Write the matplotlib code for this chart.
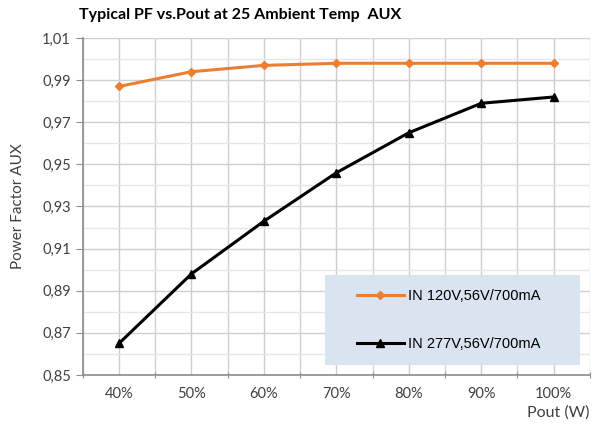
import matplotlib
matplotlib.use("Agg")
import matplotlib.pyplot as plt
from matplotlib.patches import Rectangle
from matplotlib.ticker import FuncFormatter, FixedLocator
import numpy as np

plt.rcParams['font.family'] = ['Lato', 'DejaVu Sans']

categories = ["40%", "50%", "60%", "70%", "80%", "90%", "100%"]
pf_120v = [0.987, 0.994, 0.997, 0.998, 0.998, 0.998, 0.998]
pf_277v = [0.865, 0.898, 0.923, 0.946, 0.965, 0.979, 0.982]
labels = ["IN 120V,56V/700mA", "IN 277V,56V/700mA"]

fig = plt.figure(figsize=(6, 4.32), dpi=100)
ax = fig.add_axes([0.138, 0.132, 0.845, 0.78])

x = np.arange(len(categories))

# grid
ax.set_xlim(-0.5, len(categories) - 0.5)
ax.set_ylim(0.85, 1.01)
ax.yaxis.set_major_locator(FixedLocator(np.round(np.arange(0.85, 1.0101, 0.02), 2)))
ax.yaxis.set_minor_locator(FixedLocator(np.round(np.arange(0.86, 1.0101, 0.02), 2)))
ax.yaxis.set_major_formatter(FuncFormatter(lambda v, p: f"{v:.2f}".replace('.', ',')))
ax.xaxis.set_major_locator(FixedLocator(np.arange(-0.5, len(categories), 1.0)))
ax.xaxis.set_minor_locator(FixedLocator(x))
ax.xaxis.set_major_formatter(FuncFormatter(lambda v, p: ""))
ax.set_xticklabels(categories, minor=True)
ax.grid(True, which='major', axis='both', color='#d0d0d0', linewidth=1.0, zorder=0)
ax.grid(True, which='minor', axis='y', color='#e6e6e6', linewidth=1.0, zorder=0)
ax.grid(True, which='minor', axis='x', color='#cccccc', linewidth=1.0, zorder=0)
ax.set_axisbelow(True)

for s in ['top', 'right']:
    ax.spines[s].set_visible(False)
for s in ['left', 'bottom']:
    ax.spines[s].set_color('#8c8c8c')
    ax.spines[s].set_linewidth(1.2)

ax.tick_params(axis='y', which='major', length=5, color='#8c8c8c', labelsize=10.5, labelcolor='#404040')
ax.tick_params(axis='y', which='minor', length=0)
ax.tick_params(axis='x', which='major', length=5, direction='inout', color='#8c8c8c')
ax.tick_params(axis='x', which='minor', length=0, pad=9, labelsize=10.5, labelcolor='#404040')

# legend background box
ax.add_patch(Rectangle((0.477, 0.03), 0.503, 0.267, transform=ax.transAxes,
                       facecolor='#dae3f0', edgecolor='none', zorder=1))

ax.plot(x, pf_120v, color='#ED7D31', linewidth=2.2, marker='D', markersize=4,
        label=labels[0], zorder=3)
ax.plot(x, pf_277v, color='black', linewidth=2.2, marker='^', markersize=6,
        label=labels[1], zorder=3)

ax.legend(loc='center left', bbox_to_anchor=(0.515, 0.163), frameon=False,
          handlelength=3.2, handletextpad=0.3, labelspacing=2.3,
          prop={'family': 'Liberation Sans', 'size': 10.5})

ax.set_ylabel("Power Factor AUX", fontsize=11, color='#404040', labelpad=12)
fig.text(0.983, 0.046, "Pout (W)", ha='right', va='center', fontsize=11.5, color='#404040')
fig.text(0.40, 0.965, "Typical PF vs.Pout at 25 Ambient Temp  AUX", ha='center', va='center',
         fontsize=11.5, fontweight='bold')

fig.savefig("out.png", dpi=100)
